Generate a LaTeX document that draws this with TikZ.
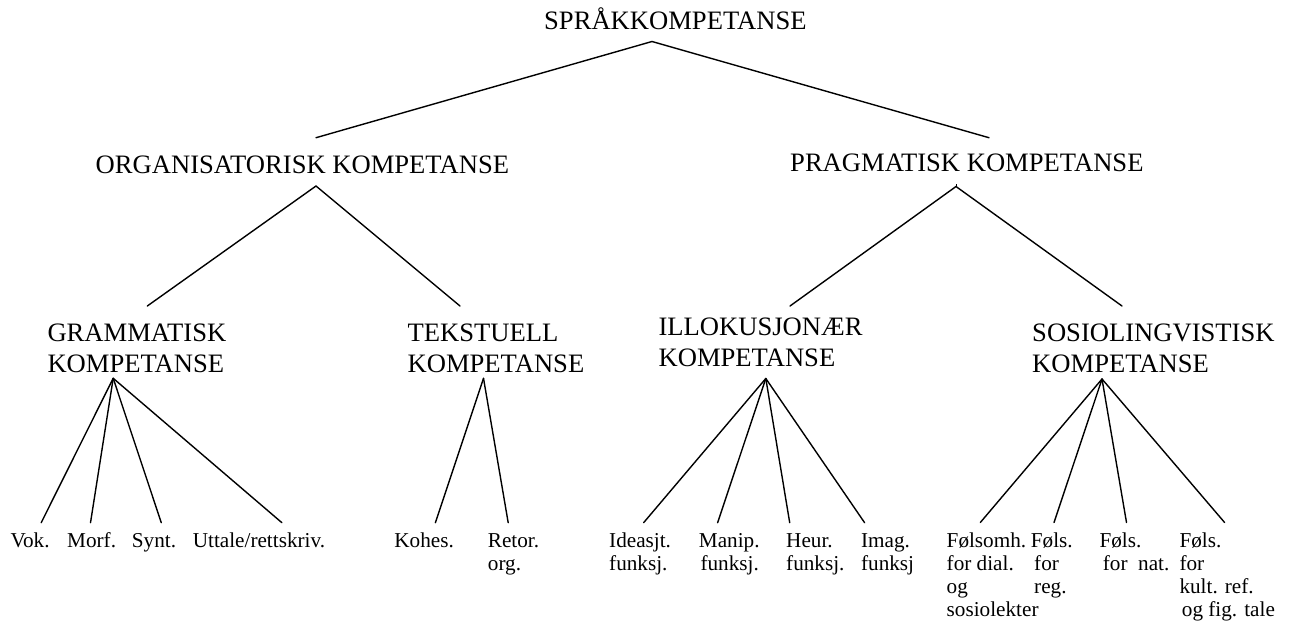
\documentclass[tikz,border=0pt]{standalone}
\usepackage{fontspec}
\setmainfont{Liberation Serif}
\begin{document}
\begin{tikzpicture}[x=1pt,y=-1pt,
  bigtext/.style={inner sep=0pt,anchor=base west,font=\fontsize{26.6}{31}\selectfont},
  smalltext/.style={inner sep=0pt,anchor=base west,font=\fontsize{21.2}{23.3}\selectfont},
  branch/.style={line width=1.4pt,line cap=round,line join=miter}]
\useasboundingbox (0,0) rectangle (1289,622);

% ---- level 0 ----
\node[bigtext] (sprak) at (544,29.3) {SPRÅKKOMPETANSE};

% ---- level 1 ----
\node[bigtext] (org)  at (95.5,173.3) {ORGANISATORISK KOMPETANSE};
\node[bigtext] (prag) at (790,171.7)  {PRAGMATISK KOMPETANSE};

% ---- level 2 ----
\node[bigtext] (gram)   at (47.3,341.7)  {\vtop{\hbox{GRAMMATISK}\hbox{KOMPETANSE}}};
\node[bigtext] (tekst)  at (407.4,341.7) {\vtop{\hbox{TEKSTUELL}\hbox{KOMPETANSE}}};
\node[bigtext] (illok)  at (658.4,335)   {\vtop{\hbox{ILLOKUSJONÆR}\hbox{KOMPETANSE}}};
\node[bigtext] (sosio)  at (1032,341.7)  {\vtop{\hbox{SOSIOLINGVISTISK}\hbox{KOMPETANSE}}};

% ---- level 3 ----
\node[smalltext] (vok)    at (10.3,547)  {Vok.};
\node[smalltext] (morf)   at (67,547)    {Morf.};
\node[smalltext] (synt)   at (131.7,547) {Synt.};
\node[smalltext] (uttale) at (192.6,547) {Uttale/rettskriv.};
\node[smalltext] (kohes)  at (394.2,547) {Kohes.};
\node[smalltext] (retor)  at (487.7,547) {\vtop{\hbox{Retor.}\hbox{org.}}};
\node[smalltext] (idea)   at (609,547)   {\vtop{\hbox{Ideasjt.}\hbox{funksj.}}};
\node[smalltext] (manip)  at (698.7,547) {\vtop{\hbox{Manip.}\hbox{\kern1.6pt funksj.}}};
\node[smalltext] (heur)   at (786,547)   {\vtop{\hbox{Heur.}\hbox{funksj.}}};
\node[smalltext] (imag)   at (860.9,547) {\vtop{\hbox{Imag.}\hbox{funksj}}};
\node[smalltext] (folsomh) at (946.5,547) {\vtop{\hbox{Følsomh.}\hbox{for dial.}\hbox{og}\hbox{sosiolekter}}};
\node[smalltext] (folsa)  at (1030.7,547) {\vtop{\hbox{Føls.}\hbox{\kern3.3pt for}\hbox{\kern3.3pt reg.}}};
\node[smalltext] (folsb)  at (1099.3,547) {\vtop{\hbox{Føls.}\hbox{\kern3.4pt for\enspace nat.}}};
\node[smalltext] (folsc)  at (1179.3,547) {\vtop{\hbox{Føls.}\hbox{for}\hbox{kult. ref.}\hbox{\kern2.4pt og fig. tale}}};

% ---- branching points ----
\coordinate (sprak-s) at (652,41.5);
\coordinate (org-n)   at (316,137.7);
\coordinate (prag-n)  at (989,137.7);
\coordinate (org-s)   at (316,186);
\coordinate (prag-s)  at (956,186.5);
\coordinate (prag-t)  at (956,183.6);
\coordinate (gram-n)  at (147.3,306);
\coordinate (tekst-n) at (460,306);
\coordinate (illok-n) at (790,306);
\coordinate (sosio-n) at (1122,306);
\coordinate (gram-s)  at (113.2,378.3);
\coordinate (tekst-s) at (483.5,378.3);
\coordinate (illok-s) at (765.8,378.5);
\coordinate (sosio-s) at (1102,379);
\coordinate (vok-n)    at (41.2,522.7);
\coordinate (morf-n)   at (90.5,522.7);
\coordinate (synt-n)   at (161.3,522.7);
\coordinate (uttale-n) at (281.9,522.7);
\coordinate (kohes-n)  at (435.4,522.7);
\coordinate (retor-n)  at (508.2,522.7);
\coordinate (idea-n)   at (643.6,522.7);
\coordinate (manip-n)  at (717.6,522.7);
\coordinate (heur-n)   at (789.7,522.7);
\coordinate (imag-n)   at (864.6,522.7);
\coordinate (folsomh-n) at (980.3,522.5);
\coordinate (folsa-n)  at (1054,522.5);
\coordinate (folsb-n)  at (1126.5,522.5);
\coordinate (folsc-n)  at (1224.6,522.5);

% ---- connectors ----
\draw[branch] (org-n) -- (sprak-s) -- (prag-n);
\draw[branch] (gram-n) -- (org-s) -- (tekst-n);
\draw[branch] (illok-n) -- (prag-s) -- (sosio-n);
\draw[line width=1pt] (prag-s) -- (prag-t);
\foreach \c in {vok,morf,synt,uttale} \draw[branch] (gram-s) -- (\c-n);
\foreach \c in {kohes,retor} \draw[branch] (tekst-s) -- (\c-n);
\foreach \c in {idea,manip,heur,imag} \draw[branch] (illok-s) -- (\c-n);
\foreach \c in {folsomh,folsa,folsb,folsc} \draw[branch] (sosio-s) -- (\c-n);
\end{tikzpicture}
\end{document}
